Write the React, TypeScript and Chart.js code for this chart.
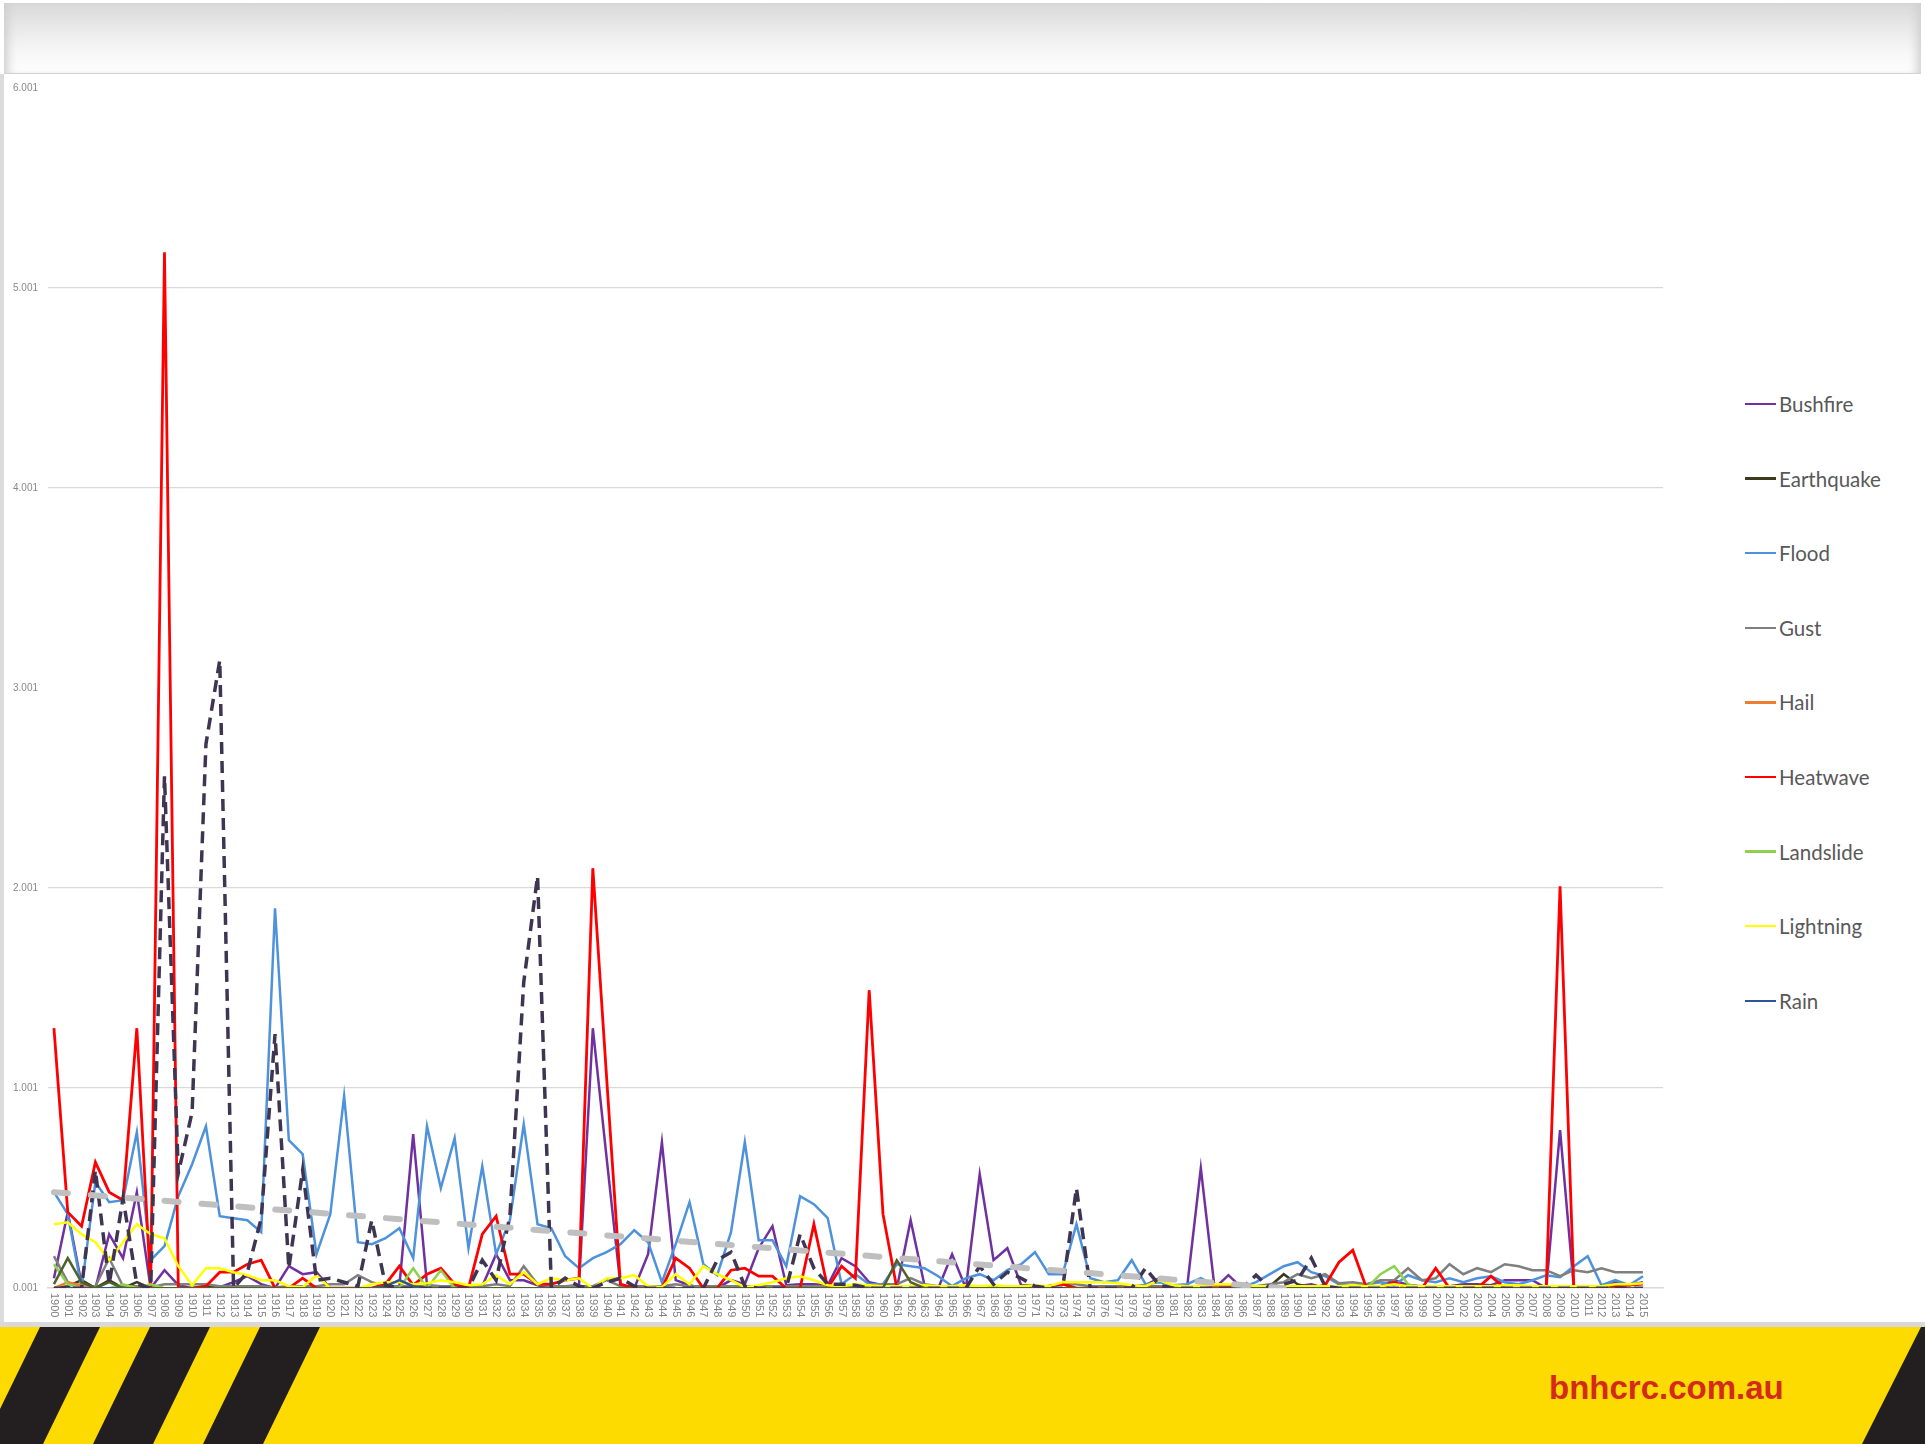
import React, { useEffect, useRef } from "react";
import { Chart, registerables } from "chart.js";

Chart.register(...registerables);

// Years on the horizontal axis
const years: number[] = [
  1900, 1901, 1902, 1903, 1904, 1905, 1906, 1907, 1908, 1909,
  1910, 1911, 1912, 1913, 1914, 1915, 1916, 1917, 1918, 1919,
  1920, 1921, 1922, 1923, 1924, 1925, 1926, 1927, 1928, 1929,
  1930, 1931, 1932, 1933, 1934, 1935, 1936, 1937, 1938, 1939,
  1940, 1941, 1942, 1943, 1944, 1945, 1946, 1947, 1948, 1949,
  1950, 1951, 1952, 1953, 1954, 1955, 1956, 1957, 1958, 1959,
  1960, 1961, 1962, 1963, 1964, 1965, 1966, 1967, 1968, 1969,
  1970, 1971, 1972, 1973, 1974, 1975, 1976, 1977, 1978, 1979,
  1980, 1981, 1982, 1983, 1984, 1985, 1986, 1987, 1988, 1989,
  1990, 1991, 1992, 1993, 1994, 1995, 1996, 1997, 1998, 1999,
  2000, 2001, 2002, 2003, 2004, 2005, 2006, 2007, 2008, 2009,
  2010, 2011, 2012, 2013, 2014, 2015,
];

// Vertical axis ticks
const yTickValues: number[] = [0.001, 1.001, 2.001, 3.001, 4.001, 5.001, 6.001];
const yTickLabels: string[] = ["0.001", "1.001", "2.001", "3.001", "4.001", "5.001", "6.001"];
const hiddenGridValues: number[] = [0.001, 3.001, 6.001];

const bushfire: number[] = [
  0.05, 0.38, 0.02, 0, 0.27, 0.15, 0.48, 0, 0.09, 0.015,
  0, 0, 0.005, 0.03, 0.06, 0.02, 0, 0.11, 0.07, 0.08,
  0, 0, 0, 0, 0, 0.01, 0.77, 0.015, 0.01, 0,
  0.01, 0.01, 0.17, 0.04, 0.04, 0.015, 0, 0.01, 0.015, 1.3,
  0.65, 0.015, 0, 0.17, 0.73, 0.04, 0.015, 0, 0, 0.04,
  0.02, 0.2, 0.31, 0.015, 0.02, 0.02, 0.015, 0.15, 0.11, 0.03,
  0.015, 0, 0.34, 0.015, 0, 0.17, 0, 0.57, 0.14, 0.2,
  0.015, 0.015, 0, 0, 0, 0, 0, 0, 0.01, 0.015,
  0.05, 0, 0, 0.6, 0, 0.065, 0, 0, 0, 0.01,
  0.01, 0.02, 0, 0, 0, 0.01, 0.01, 0.04, 0.015, 0.01,
  0.01, 0.01, 0.02, 0.02, 0.015, 0.04, 0.04, 0.04, 0, 0.79,
  0, 0, 0, 0.03, 0.015, 0.03,
];

const earthquake: number[] = [
  0, 0.01, 0.04, 0, 0.04, 0, 0.03, 0, 0, 0,
  0, 0.01, 0, 0, 0, 0, 0, 0, 0, 0,
  0, 0, 0, 0, 0, 0, 0, 0, 0, 0,
  0, 0, 0, 0, 0, 0, 0, 0, 0, 0,
  0, 0, 0, 0, 0, 0, 0, 0, 0, 0,
  0, 0, 0, 0, 0, 0, 0, 0, 0, 0,
  0, 0, 0, 0, 0, 0, 0, 0, 0, 0,
  0, 0, 0, 0, 0, 0, 0, 0, 0, 0,
  0, 0, 0, 0, 0, 0, 0, 0, 0.01, 0.07,
  0.02, 0, 0, 0, 0, 0, 0, 0, 0, 0,
  0, 0, 0, 0, 0, 0, 0, 0, 0, 0,
  0, 0, 0, 0, 0, 0,
];

const flood: number[] = [
  0.48, 0.37, 0, 0.53, 0.43, 0.44, 0.78, 0.14, 0.21, 0.46,
  0.62, 0.81, 0.36, 0.35, 0.34, 0.28, 1.9, 0.74, 0.67, 0.17,
  0.37, 0.96, 0.23, 0.22, 0.25, 0.3, 0.15, 0.81, 0.5, 0.75,
  0.2, 0.61, 0.17, 0.34, 0.82, 0.32, 0.3, 0.16, 0.1, 0.15,
  0.18, 0.22, 0.29, 0.23, 0.03, 0.22, 0.43, 0.12, 0.065, 0.28,
  0.73, 0.24, 0.24, 0.11, 0.46, 0.42, 0.35, 0.02, 0.07, 0.02,
  0.02, 0.12, 0.11, 0.1, 0.06, 0.01, 0.05, 0.07, 0.04, 0.09,
  0.12, 0.18, 0.07, 0.07, 0.32, 0.05, 0.03, 0.04, 0.14, 0.02,
  0.03, 0.015, 0.02, 0.05, 0.015, 0.01, 0.005, 0.03, 0.07, 0.11,
  0.13, 0.08, 0.06, 0.02, 0.01, 0.02, 0.03, 0.015, 0.065, 0.04,
  0.03, 0.05, 0.03, 0.05, 0.06, 0.03, 0.02, 0.04, 0.065, 0.055,
  0.11, 0.16, 0.015, 0.04, 0.015, 0.06,
];

const gust: number[] = [
  0.16, 0.03, 0, 0.01, 0.15, 0.01, 0.01, 0.005, 0.02, 0.02,
  0.02, 0.02, 0.01, 0.01, 0.01, 0.01, 0.005, 0.01, 0.01, 0.01,
  0.02, 0.02, 0.065, 0.03, 0.01, 0.01, 0.01, 0.01, 0.01, 0.01,
  0.01, 0.01, 0.02, 0.01, 0.11, 0.02, 0.01, 0.01, 0.01, 0.01,
  0.04, 0.01, 0.01, 0.01, 0.01, 0.02, 0.01, 0.01, 0.01, 0.01,
  0.01, 0.01, 0.01, 0.01, 0.01, 0.01, 0.01, 0.01, 0.01, 0.01,
  0.02, 0.02, 0.05, 0.02, 0.01, 0.01, 0.01, 0.01, 0.01, 0.01,
  0.01, 0.01, 0.01, 0.02, 0.02, 0.01, 0.01, 0.01, 0.01, 0.01,
  0.01, 0.01, 0.01, 0.01, 0.01, 0.01, 0.01, 0.01, 0.02, 0.03,
  0.07, 0.05, 0.07, 0.025, 0.03, 0.02, 0.04, 0.04, 0.1, 0.04,
  0.05, 0.12, 0.07, 0.1, 0.08, 0.12, 0.11, 0.09, 0.09, 0.06,
  0.09, 0.08, 0.1, 0.08, 0.08, 0.08,
];

const hail: number[] = [
  0, 0.03, 0.015, 0, 0, 0, 0, 0, 0, 0,
  0, 0, 0, 0, 0, 0, 0, 0, 0, 0,
  0, 0, 0, 0, 0, 0, 0, 0, 0, 0,
  0, 0, 0, 0, 0, 0, 0, 0, 0, 0,
  0, 0, 0, 0, 0, 0, 0, 0, 0, 0,
  0, 0, 0, 0, 0, 0, 0, 0, 0, 0,
  0, 0, 0, 0, 0, 0, 0, 0, 0, 0,
  0, 0, 0, 0, 0, 0, 0, 0, 0, 0,
  0, 0, 0, 0, 0.01, 0.01, 0, 0, 0, 0,
  0, 0, 0, 0, 0, 0, 0, 0, 0, 0,
  0, 0, 0, 0, 0, 0, 0, 0, 0, 0,
  0, 0, 0, 0, 0, 0,
];

const heatwave: number[] = [
  1.3, 0.38, 0.31, 0.63, 0.48, 0.44, 1.3, 0, 5.18, 0,
  0, 0.01, 0.08, 0.08, 0.12, 0.14, 0, 0, 0.05, 0,
  0, 0, 0, 0, 0.02, 0.11, 0.015, 0.07, 0.1, 0.02,
  0, 0.27, 0.36, 0.07, 0.07, 0.02, 0.02, 0.04, 0.05, 2.1,
  1.05, 0.02, 0, 0, 0, 0.15, 0.1, 0, 0, 0.09,
  0.1, 0.06, 0.06, 0, 0, 0.32, 0, 0.11, 0.05, 1.49,
  0.37, 0, 0.01, 0, 0, 0, 0, 0, 0, 0,
  0, 0, 0.01, 0.02, 0, 0, 0, 0, 0, 0,
  0, 0, 0, 0, 0, 0, 0, 0, 0, 0,
  0, 0, 0.015, 0.13, 0.19, 0, 0, 0.03, 0, 0,
  0.1, 0, 0, 0, 0.06, 0, 0, 0, 0.01, 2.01,
  0, 0, 0, 0.01, 0.015, 0.02,
];

const landslide: number[] = [
  0.12, 0.02, 0, 0, 0, 0.02, 0, 0.02, 0, 0,
  0, 0, 0, 0, 0, 0, 0, 0, 0, 0,
  0, 0, 0, 0, 0, 0, 0.1, 0, 0.09, 0,
  0, 0, 0, 0, 0, 0, 0, 0, 0, 0,
  0, 0, 0, 0, 0, 0, 0, 0, 0, 0,
  0, 0, 0, 0, 0, 0, 0, 0, 0, 0,
  0, 0, 0, 0, 0, 0, 0, 0, 0, 0,
  0, 0, 0, 0, 0, 0, 0, 0, 0, 0,
  0, 0, 0, 0, 0, 0, 0, 0, 0, 0,
  0, 0, 0, 0, 0, 0, 0.07, 0.11, 0.02, 0,
  0, 0, 0, 0, 0, 0, 0, 0, 0, 0,
  0, 0, 0, 0, 0, 0,
];

const lightning: number[] = [
  0.32, 0.33, 0.27, 0.23, 0.14, 0.23, 0.32, 0.27, 0.25, 0.11,
  0.015, 0.1, 0.1, 0.08, 0.065, 0.04, 0.04, 0.01, 0.005, 0.065,
  0, 0, 0, 0.02, 0.03, 0.03, 0.02, 0.025, 0.04, 0.03,
  0.015, 0.02, 0.065, 0.02, 0.08, 0.02, 0.05, 0.04, 0.05, 0,
  0.05, 0.05, 0.065, 0.01, 0.005, 0.07, 0.02, 0.11, 0.07, 0.04,
  0.005, 0.015, 0.03, 0.05, 0.06, 0.04, 0.015, 0.01, 0.02, 0.015,
  0.01, 0.01, 0.01, 0.015, 0.01, 0.01, 0.015, 0.01, 0.015, 0.01,
  0.01, 0.015, 0.01, 0.03, 0.03, 0.03, 0.03, 0.025, 0.015, 0.01,
  0.04, 0.015, 0.01, 0.01, 0.02, 0.02, 0.02, 0.01, 0.01, 0.01,
  0.01, 0.01, 0.01, 0.01, 0.015, 0.01, 0.01, 0.02, 0.01, 0.01,
  0.01, 0.01, 0.01, 0.01, 0.01, 0.015, 0.015, 0.01, 0.01, 0.01,
  0.01, 0.01, 0.01, 0.02, 0.02, 0.025,
];

const rain: number[] = [
  0, 0, 0, 0, 0, 0, 0, 0, 0, 0,
  0, 0, 0, 0, 0, 0, 0, 0, 0, 0,
  0, 0, 0, 0, 0.01, 0.04, 0.01, 0, 0, 0,
  0, 0, 0, 0, 0, 0, 0, 0, 0, 0,
  0, 0, 0, 0, 0, 0, 0, 0, 0, 0,
  0, 0, 0, 0, 0, 0, 0, 0, 0, 0,
  0, 0, 0, 0, 0, 0, 0, 0, 0, 0,
  0, 0, 0, 0, 0, 0, 0, 0, 0, 0,
  0, 0, 0, 0, 0, 0, 0, 0, 0, 0,
  0, 0, 0, 0, 0, 0, 0, 0, 0, 0,
  0, 0, 0, 0, 0, 0, 0, 0, 0, 0,
  0, 0, 0, 0, 0, 0,
];

const tornado: number[] = [
  0.02, 0.15, 0.03, 0, 0.03, 0, 0, 0, 0, 0,
  0, 0, 0, 0, 0, 0, 0, 0, 0, 0,
  0, 0, 0, 0, 0, 0, 0, 0, 0, 0,
  0, 0, 0, 0, 0, 0, 0, 0, 0, 0,
  0, 0, 0, 0, 0, 0, 0, 0, 0, 0,
  0, 0, 0, 0, 0, 0, 0, 0, 0, 0,
  0, 0.14, 0.03, 0, 0, 0, 0, 0, 0, 0,
  0, 0, 0, 0, 0, 0, 0, 0, 0, 0,
  0, 0, 0, 0, 0, 0, 0, 0, 0, 0,
  0, 0, 0, 0, 0, 0, 0, 0, 0, 0,
  0, 0, 0, 0, 0, 0, 0, 0, 0, 0,
  0, 0, 0, 0, 0, 0,
];

const cyclone: number[] = [
  0, 0, 0, 0.59, 0.02, 0.45, 0.02, 0, 2.56, 0.575,
  0.88, 2.72, 3.14, 0, 0.08, 0.35, 1.27, 0.1, 0.59, 0.04,
  0.05, 0.03, 0.01, 0.34, 0.015, 0, 0, 0, 0, 0,
  0, 0.14, 0.04, 0.36, 1.53, 2.06, 0, 0.05, 0.01, 0,
  0.03, 0.05, 0.01, 0, 0, 0, 0, 0, 0.14, 0.18,
  0.01, 0, 0, 0, 0.27, 0.1, 0.02, 0.02, 0.015, 0,
  0, 0, 0, 0, 0, 0, 0, 0.11, 0.02, 0.08,
  0.05, 0.01, 0, 0, 0.5, 0, 0, 0, 0, 0.1,
  0.015, 0, 0, 0, 0, 0, 0, 0.065, 0, 0.02,
  0.04, 0.15, 0.01, 0, 0, 0, 0, 0, 0, 0,
  0, 0, 0, 0, 0, 0, 0, 0, 0, 0,
  0, 0, 0, 0, 0, 0,
];

// Linear trend of all events: its two end points
const trendYears: number[] = [1900, 1989];
const trendValues: number[] = [0.48, 0.0];

type Series = {
  label: string;
  values: number[];
  color: string;
  width: number;
  dash?: number[];
  inLegend: boolean;
};

const seriesList: Series[] = [
  { label: "Bushfire", values: bushfire, color: "#7030A0", width: 2.5, inLegend: true },
  { label: "Earthquake", values: earthquake, color: "#3D3A1E", width: 2.5, inLegend: true },
  { label: "Flood", values: flood, color: "#4E92DC", width: 2.5, inLegend: true },
  { label: "Gust", values: gust, color: "#7F7F7F", width: 2.5, inLegend: true },
  { label: "Hail", values: hail, color: "#ED7D31", width: 2.5, inLegend: true },
  { label: "Heatwave", values: heatwave, color: "#FF0000", width: 2.8, inLegend: true },
  { label: "Landslide", values: landslide, color: "#8FD14F", width: 2.5, inLegend: true },
  { label: "Lightning", values: lightning, color: "#FFFF00", width: 2.5, inLegend: true },
  { label: "Rain", values: rain, color: "#2F5597", width: 2.5, inLegend: true },
  { label: "Tornado", values: tornado, color: "#4F6228", width: 2.5, inLegend: false },
  { label: "Tropical cyclone", values: cyclone, color: "#3F3553", width: 3.5, dash: [12, 7], inLegend: false },
];

const FONT = "Lato, 'Liberation Sans', sans-serif";

// Year labels drawn rotated, reading downward from the axis
const yearLabelPlugin = {
  id: "yearLabels",
  afterDraw(chart: any) {
    const { ctx, chartArea } = chart;
    const xScale = chart.scales.x;
    ctx.save();
    ctx.font = "11px 'Liberation Sans', sans-serif";
    ctx.fillStyle = "#808080";
    ctx.textAlign = "left";
    ctx.textBaseline = "middle";
    years.forEach((yr) => {
      const px = xScale.getPixelForValue(yr);
      ctx.save();
      ctx.translate(px, chartArea.bottom + 5);
      ctx.rotate(Math.PI / 2);
      ctx.fillText(String(yr), 0, 0);
      ctx.restore();
    });
    ctx.restore();
  },
};

export default function App() {
  const canvasRef = useRef<HTMLCanvasElement>(null);

  useEffect(() => {
    const canvas = canvasRef.current;
    if (!canvas) return;

    const datasets: any[] = seriesList.map((s, idx) => ({
      label: s.label,
      data: years.map((yr, i) => ({ x: yr, y: s.values[i] })),
      borderColor: s.color,
      backgroundColor: s.color,
      borderWidth: s.width,
      borderDash: s.dash || [],
      pointRadius: 0,
      tension: 0,
      fill: false,
      order: 100 - idx,
    }));
    datasets.push({
      label: "Linear trend",
      data: trendYears.map((yr, i) => ({ x: yr, y: trendValues[i] })),
      borderColor: "#BFBFBF",
      borderWidth: 6,
      borderDash: [14, 23],
      borderCapStyle: "round",
      pointRadius: 0,
      tension: 0,
      fill: false,
      order: 0,
    });

    const chart = new Chart(canvas, {
      type: "line",
      data: { datasets },
      plugins: [yearLabelPlugin],
      options: {
        animation: false,
        responsive: false,
        maintainAspectRatio: false,
        layout: { padding: { left: 0, top: 88, right: 37, bottom: 12 } },
        plugins: {
          legend: { display: false },
          tooltip: { enabled: false },
        },
        scales: {
          x: {
            type: "linear",
            min: 1899.57,
            max: 2016.45,
            grid: { display: false },
            ticks: { display: false },
            border: { display: true, color: "#d9d9d9", width: 1.5 },
            afterFit(scale: any) {
              scale.height = 30;
            },
          },
          y: {
            type: "linear",
            min: 0.001,
            max: 6.001,
            afterBuildTicks(axis: any) {
              axis.ticks = yTickValues.map((v) => ({ value: v }));
            },
            afterFit(scale: any) {
              scale.width = 48;
            },
            ticks: {
              padding: 10,
              color: "#8a8a8a",
              font: { family: "'Liberation Sans', sans-serif", size: 10 },
              callback: (_v: any, idx: number) => yTickLabels[idx],
            },
            grid: {
              drawTicks: false,
              lineWidth: 1.3,
              color: (ctx: any) =>
                ctx.tick && hiddenGridValues.includes(ctx.tick.value)
                  ? "rgba(0,0,0,0)"
                  : "#d9d9d9",
            },
            border: { display: false },
          },
        },
      },
    });

    return () => chart.destroy();
  }, []);

  const legendItems = seriesList.filter((s) => s.inLegend);
  const legendTop = 404;
  const legendStep = 74.6;

  return (
    <div
      style={{
        position: "absolute",
        left: 0,
        top: 0,
        width: 1925,
        height: 1444,
        background: "#ffffff",
        overflow: "hidden",
        fontFamily: FONT,
      }}
    >
      {/* header band */}
      <div
        style={{
          position: "absolute",
          left: 4,
          top: 3,
          width: 1917,
          height: 70,
          background: "linear-gradient(to bottom, #d8d8d8 0%, #e9e9e9 35%, #f7f7f7 70%, #fdfdfd 100%)",
          boxShadow: "inset 10px 0 10px -6px #cfcfcf, inset -10px 0 10px -6px #cfcfcf",
          borderBottom: "1.5px solid #d2d2d2",
        }}
      />
      {/* left frame line */}
      <div
        style={{
          position: "absolute",
          left: 0,
          top: 74,
          width: 4,
          height: 1252,
          background: "#dcdcdc",
        }}
      />
      <canvas
        ref={canvasRef}
        width={1700}
        height={1330}
        style={{ position: "absolute", left: 0, top: 0, width: 1700, height: 1330 }}
      />
      {/* legend */}
      {legendItems.map((s, i) => {
        const cy = legendTop + i * legendStep;
        return (
          <div key={s.label}>
            <div
              style={{
                position: "absolute",
                left: 1745,
                top: cy - 1.25,
                width: 31,
                height: 2.5,
                background: s.color,
              }}
            />
            <div
              style={{
                position: "absolute",
                left: 1779,
                top: cy - 13,
                height: 26,
                lineHeight: "26px",
                fontSize: 20.5,
                color: "#595959",
                whiteSpace: "nowrap",
              }}
            >
              {s.label}
            </div>
          </div>
        );
      })}
      {/* footer band */}
      <svg
        width={1925}
        height={122}
        style={{ position: "absolute", left: 0, top: 1322 }}
      >
        <rect x={0} y={0} width={1925} height={5} fill="#d9d9d9" />
        <rect x={0} y={5} width={1925} height={117} fill="#FDDA00" />
        <polygon points="40,5 100,5 43,122 -17,122" fill="#231F20" />
        <polygon points="150,5 210,5 153,122 93,122" fill="#231F20" />
        <polygon points="260,5 320,5 263,122 203,122" fill="#231F20" />
        <polygon points="1921,5 1925,5 1925,122 1862,122" fill="#231F20" />
        <text
          x={1549}
          y={77}
          fill="#D42A1C"
          fontFamily="'Liberation Sans', sans-serif"
          fontWeight="bold"
          fontSize={33}
        >
          bnhcrc.com.au
        </text>
      </svg>
    </div>
  );
}
